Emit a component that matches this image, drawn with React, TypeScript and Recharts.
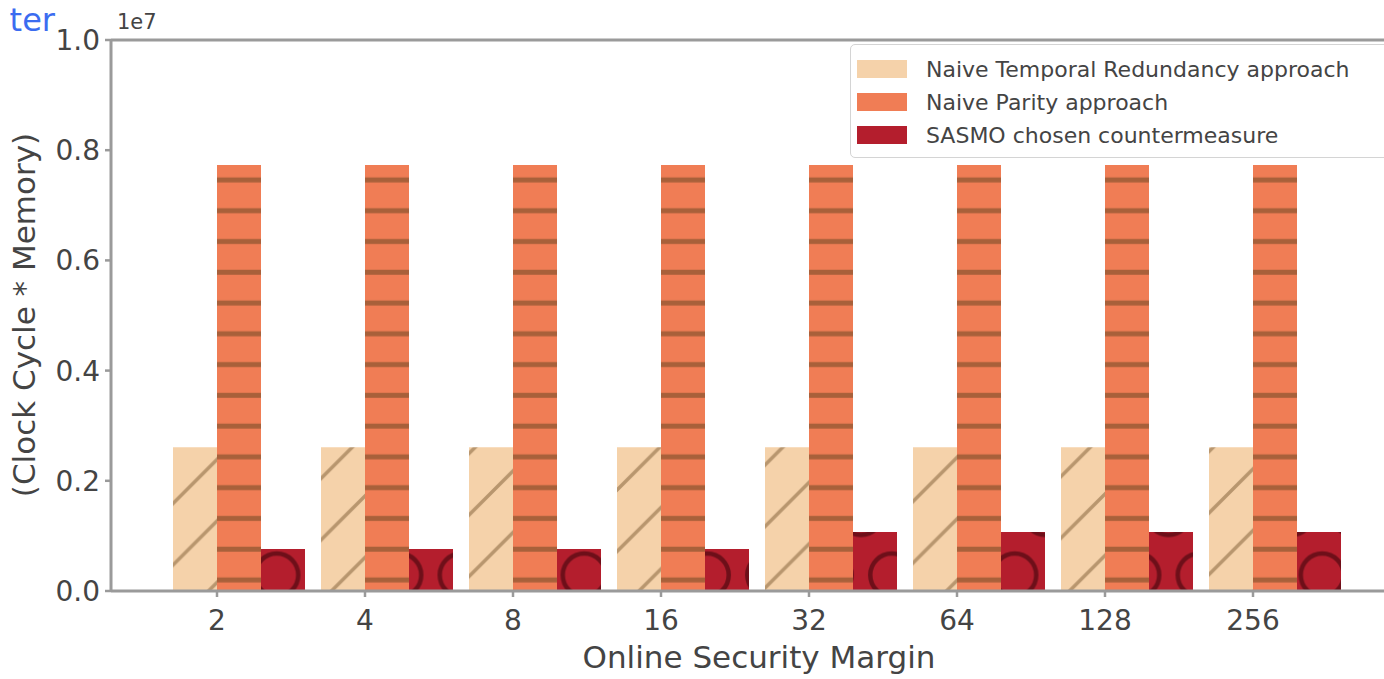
import React from "react";
import { BarChart, Bar, XAxis, YAxis, ReferenceLine } from "recharts";

// values are in Clock Cycle * Memory (axis shows them as multiples of 1e7)
const securityMargins = ["2", "4", "8", "16", "32", "64", "128", "256"];
const temporalCost = [2.61e6, 2.61e6, 2.61e6, 2.61e6, 2.61e6, 2.61e6, 2.61e6, 2.61e6];
const parityCost = [7.73e6, 7.73e6, 7.73e6, 7.73e6, 7.73e6, 7.73e6, 7.73e6, 7.73e6];
const sasmoCost = [0.76e6, 0.76e6, 0.76e6, 0.76e6, 1.07e6, 1.07e6, 1.07e6, 1.07e6];
const yTicks = [0, 2e6, 4e6, 6e6, 8e6, 1e7];

const series = [
  { key: "temporal", name: "Naive Temporal Redundancy approach", fill: "url(#hatchTemporal)", swatch: "#f5d2aa" },
  { key: "parity", name: "Naive Parity approach", fill: "url(#hatchParity)", swatch: "#f07d55" },
  { key: "sasmo", name: "SASMO chosen countermeasure", fill: "url(#hatchSasmo)", swatch: "#b41e2d" },
];

const rows = securityMargins.map((m, i) => ({
  margin: m,
  temporal: temporalCost[i],
  parity: parityCost[i],
  sasmo: sasmoCost[i],
}));

const FONT = "DejaVu Sans, sans-serif";
const INK = "#444";
const SPINE = "#9a9a9a";
const BAR_W = 44;

// matplotlib puts the tick on the left edge of the middle bar, not the band centre
function ShiftedTick({ x, y, payload }: any) {
  const tx = x - BAR_W / 2;
  return (
    <g>
      <line x1={tx} x2={tx} y1={y - 8} y2={y - 2} stroke={SPINE} strokeWidth={2.5} />
      <text x={tx} y={y + 31} textAnchor="middle" fontSize={28} fill={INK} fontFamily={FONT}>
        {payload.value}
      </text>
    </g>
  );
}

export default function App() {
  return (
    <div style={{ position: "absolute", left: 0, top: 0, width: 1384, height: 679, overflow: "hidden", background: "#fff" }}>
      <BarChart
        width={1420}
        height={679}
        data={rows}
        margin={{ top: 40, right: 17, bottom: 0, left: 0 }}
        barGap={0}
        barSize={BAR_W}
      >
        <defs>
          <pattern id="hatchTemporal" patternUnits="userSpaceOnUse" width={61.5} height={61.5}>
            <rect width={61.5} height={61.5} fill="#f5d2aa" />
            <path d="M0,61.5 L61.5,0 M-15,15 L15,-15 M46.5,76.5 L76.5,46.5" stroke="#b8966e" strokeWidth={3.5} />
          </pattern>
          <pattern id="hatchParity" patternUnits="userSpaceOnUse" width={40} height={30.77}>
            <rect width={40} height={30.77} fill="#f07d55" />
            <rect y={23.6} width={40} height={5} fill="#a8603a" />
          </pattern>
          <pattern id="hatchSasmo" patternUnits="userSpaceOnUse" y={21.5} width={61.5} height={123}>
            <rect width={61.5} height={123} fill="#b41e2d" />
            <g fill="none" stroke="#6e0f19" strokeWidth={4.5}>
              <circle cx={0} cy={0} r={21.5} />
              <circle cx={61.5} cy={0} r={21.5} />
              <circle cx={30.75} cy={61.5} r={21.5} />
              <circle cx={0} cy={123} r={21.5} />
              <circle cx={61.5} cy={123} r={21.5} />
            </g>
          </pattern>
        </defs>
        <XAxis
          dataKey="margin"
          height={88}
          padding={{ left: 54, right: 54 }}
          axisLine={{ stroke: SPINE, strokeWidth: 3 }}
          tickLine={false}
          tickSize={6}
          tickMargin={2}
          interval={0}
          tick={<ShiftedTick />}
        />
        <YAxis
          width={111}
          domain={[0, 1e7]}
          ticks={yTicks}
          interval={0}
          tickFormatter={(v: number) => (v / 1e7).toFixed(1)}
          axisLine={{ stroke: SPINE, strokeWidth: 3 }}
          tickLine={{ stroke: SPINE, strokeWidth: 2.5 }}
          tickSize={6}
          tickMargin={5}
          tick={{ fill: INK, fontSize: 28, fontFamily: FONT }}
        />
        <ReferenceLine y={1e7} stroke={SPINE} strokeWidth={3} />
        {series.map((s) => (
          <Bar key={s.key} dataKey={s.key} name={s.name} fill={s.fill} isAnimationActive={false} />
        ))}
      </BarChart>

      <svg width={1384} height={679} style={{ position: "absolute", left: 0, top: 0, pointerEvents: "none" }}>
        <text x={55} y={31} textAnchor="end" fontSize={32} fill="#3b6cf0" fontFamily={FONT}>ter</text>
        <text x={117} y={29} fontSize={21} fill={INK} fontFamily={FONT}>1e7</text>
        <text transform="translate(35,315) rotate(-90)" textAnchor="middle" fontSize={31} fill={INK} fontFamily={FONT}>
          (Clock Cycle * Memory)
        </text>
        <text x={759} y={668} textAnchor="middle" fontSize={31} fill={INK} fontFamily={FONT}>
          Online Security Margin
        </text>
      </svg>

      <div
        style={{
          position: "absolute", left: 850, top: 44, width: 545, height: 114,
          border: "1.5px solid #d4d4d4", borderRadius: 5, background: "rgba(255,255,255,0.85)", boxSizing: "border-box",
        }}
      >
        {series.map((s, i) => (
          <div key={s.key} style={{ position: "absolute", left: 6, top: 14 + i * 33, height: 20, display: "flex", alignItems: "center" }}>
            <div style={{ width: 50, height: 18, background: s.swatch }} />
            <span style={{ marginLeft: 19, fontSize: 22, fontFamily: FONT, color: INK, whiteSpace: "nowrap" }}>{s.name}</span>
          </div>
        ))}
      </div>
    </div>
  );
}
